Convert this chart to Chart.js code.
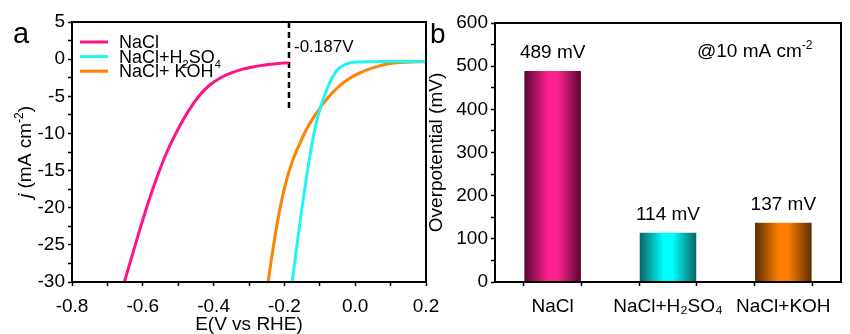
<!DOCTYPE html>
<html>
<head>
<meta charset="utf-8">
<script src="https://cdn.jsdelivr.net/npm/chart.js@4.4.1/dist/chart.umd.min.js"></script>
<style>
html,body{margin:0;padding:0;background:#fff;overflow:hidden}
#wrap{position:relative;width:850px;height:334px}
canvas{position:absolute;top:0}
</style>
</head>
<body>
<div id="wrap">
<canvas id="ca" width="450" height="334" style="left:0"></canvas>
<canvas id="cb" width="425" height="334" style="left:425px"></canvas>
</div>
<script>
// ---------------- DATA ----------------
// Panel a: LSV curves, E (V vs RHE) and j (mA cm-2)
const naclE = [-0.652,-0.620,-0.590,-0.560,-0.530,-0.500,-0.470,-0.440,-0.410,-0.380,-0.350,-0.320,-0.290,-0.260,-0.230,-0.187];
const naclJ = [-30,-24.8,-20.1,-15.9,-12.3,-9.4,-6.9,-4.9,-3.45,-2.5,-1.85,-1.38,-1.05,-0.81,-0.64,-0.48];
const h2so4E = [-0.178,-0.166,-0.154,-0.142,-0.130,-0.118,-0.106,-0.094,-0.082,-0.070,-0.058,-0.046,-0.034,-0.022,-0.008,0.008,0.04,0.1,0.2];
const h2so4J = [-30,-25.6,-21.3,-17.3,-13.6,-10.4,-7.8,-5.9,-4.3,-2.95,-1.95,-1.25,-0.85,-0.6,-0.45,-0.37,-0.34,-0.33,-0.33];
const kohE = [-0.246,-0.237,-0.227,-0.216,-0.204,-0.190,-0.174,-0.156,-0.136,-0.114,-0.090,-0.062,-0.030,0.000,0.030,0.061,0.098,0.130,0.160,0.200];
const kohJ = [-30,-27,-24,-21,-18.2,-15.6,-13.3,-11.3,-9.3,-7.6,-5.95,-4.4,-3.05,-2.15,-1.5,-1.0,-0.6,-0.44,-0.37,-0.34];
const seriesNames = ['NaCl', 'NaCl+H2SO4', 'NaCl+ KOH'];
const onsetE = -0.187;          // dashed marker
const onsetJ = [5, -6.6];       // dashed marker span
const onsetLabel = '-0.187V';

// Panel b: overpotential at 10 mA cm-2
const categories = ['NaCl', 'NaCl+H\u2082SO\u2084', 'NaCl+KOH'];
const overpotential = [489, 114, 137];
const valueUnit = 'mV';

// ---------------- STYLES ----------------
const lineColors = ['#ff1487', '#22f4f4', '#ff8200'];
const barDark = ['#5a0430', '#0a6262', '#5c2c02'];
const barBright = ['#ff2390', '#00ffff', '#ff8000'];
const FONT = "'Liberation Sans', Arial, Helvetica, sans-serif";
Chart.defaults.font.family = FONT;
Chart.defaults.color = '#000';
Chart.defaults.animation = false;

// ---------------- HELPERS ----------------
function segsFromChem(s){ // digits become subscripts
  const out = [];
  s.split(/(\d+)/).forEach((p,i)=>{ if(p) out.push({t:p, sub: i%2===1}); });
  return out;
}
function fontFor(seg, size){
  const sz = (seg.sub||seg.sup) ? Math.round(size*0.62) : size;
  return (seg.italic ? 'italic ' : '') + sz + 'px ' + FONT;
}
function richWidth(ctx, segs, size){
  let w = 0;
  segs.forEach(s=>{ ctx.font = fontFor(s,size); w += ctx.measureText(s.t).width; });
  return w;
}
function drawRich(ctx, segs, x, y, size, align){
  let w = richWidth(ctx, segs, size);
  let cx = align==='center' ? x - w/2 : (align==='right' ? x - w : x);
  ctx.textAlign = 'left'; ctx.textBaseline = 'alphabetic'; ctx.fillStyle = '#000';
  segs.forEach(s=>{
    ctx.font = fontFor(s,size);
    let dy = s.sub ? size*0.28 : (s.sup ? -size*0.42 : 0);
    ctx.fillText(s.t, cx, y+dy);
    cx += ctx.measureText(s.t).width;
  });
}
const boxPlugin = {
  id:'box',
  afterDraw(chart){
    const {ctx, chartArea:a} = chart;
    ctx.save(); ctx.strokeStyle = '#000'; ctx.lineWidth = 2;
    ctx.strokeRect(a.left, a.top, a.right-a.left, a.bottom-a.top);
    ctx.restore();
  }
};

// ---------------- PANEL A ----------------
const xyData = (xs, ys) => xs.map((x,i)=>({x, y: ys[i]}));
const panelAText = {
  id:'panelAText',
  afterDraw(chart){
    const {ctx, chartArea:a, scales} = chart;
    ctx.save();
    // panel letter
    ctx.font = '29px ' + FONT; ctx.fillStyle='#000'; ctx.textAlign='left'; ctx.textBaseline='alphabetic';
    ctx.fillText('a', 13, 43);
    // legend
    for (let i=0;i<3;i++){
      const ds = chart.data.datasets[i];
      const ry = a.top + 20 + i*14.6;
      ctx.strokeStyle = ds.borderColor; ctx.lineWidth = 3;
      ctx.beginPath(); ctx.moveTo(a.left+8, ry); ctx.lineTo(a.left+36, ry); ctx.stroke();
      drawRich(ctx, segsFromChem(ds.label), a.left+47, ry+6, 18, 'left');
    }
    // onset label
    const xp = scales.x.getPixelForValue(onsetE);
    ctx.font = '17px ' + FONT; ctx.textAlign='left'; ctx.fillStyle='#000';
    ctx.fillText(onsetLabel, xp+5, a.top+30);
    // y title
    ctx.translate(24, (a.top+a.bottom)/2);
    ctx.rotate(-Math.PI/2);
    drawRich(ctx, [{t:'j',italic:true},{t:' (mA cm'},{t:'-2',sup:true},{t:')'}], 0, 7, 19, 'center');
    ctx.restore();
  }
};
const lineStyle = {borderWidth:3, pointRadius:0, cubicInterpolationMode:'monotone', fill:false};
new Chart(document.getElementById('ca'), {
  type:'line',
  data:{
    datasets:[
      Object.assign({label:seriesNames[0], data:xyData(naclE,naclJ), borderColor:lineColors[0]}, lineStyle),
      Object.assign({label:seriesNames[1], data:xyData(h2so4E,h2so4J), borderColor:lineColors[1]}, lineStyle),
      Object.assign({label:seriesNames[2], data:xyData(kohE,kohJ), borderColor:lineColors[2]}, lineStyle),
      {label:'onset', data:[{x:onsetE,y:onsetJ[0]},{x:onsetE,y:onsetJ[1]}], borderColor:'#000', borderWidth:2.5, borderDash:[6,4], pointRadius:0, fill:false}
    ]
  },
  options:{
    responsive:false, animation:false,
    layout:{padding:{left:0,right:24,top:22,bottom:0}},
    plugins:{legend:{display:false}, tooltip:{enabled:false}},
    scales:{
      x:{type:'linear', min:-0.8, max:0.2,
         afterFit:s=>{s.height=52;},
         ticks:{stepSize:0.1, autoSkip:false, maxRotation:0, padding:9, font:{size:19}, color:'#000',
           callback:v=>{const r=Math.round(v*10); return (Math.abs(r)%2===0)?(r/10).toFixed(1):'';}},
         grid:{drawOnChartArea:false, drawTicks:true, tickLength:4, color:'#000', tickWidth:1.5},
         border:{color:'#000', width:2},
         title:{display:true, text:'E(V vs RHE)', font:{size:19}, color:'#000', padding:{top:0,bottom:-2}}},
      y:{type:'linear', min:-30, max:5,
         afterFit:s=>{s.width=72;},
         ticks:{stepSize:2.5, autoSkip:false, padding:3, font:{size:19}, color:'#000',
           callback:v=>{const r=Math.round(v*2); return (r%10===0)?String(r/2):'';}},
         grid:{drawOnChartArea:false, drawTicks:true, tickLength:4, color:'#000', tickWidth:1.5},
         border:{color:'#000', width:2}}
    }
  },
  plugins:[boxPlugin, panelAText]
});

// ---------------- PANEL B ----------------
const barGradient = {
  id:'barGradient',
  beforeDatasetsDraw(chart){
    const ctx = chart.ctx;
    chart.getDatasetMeta(0).data.forEach((el,i)=>{
      const l = el.x - el.width/2, r = el.x + el.width/2;
      const g = ctx.createLinearGradient(l,0,r,0);
      g.addColorStop(0, barDark[i]);
      g.addColorStop(0.42, barBright[i]);
      g.addColorStop(0.58, barBright[i]);
      g.addColorStop(1, barDark[i]);
      el.options.backgroundColor = g;
    });
  },
  afterDatasetsDraw(chart){
    const ctx = chart.ctx;
    ctx.save();
    ctx.font = '19px ' + FONT; ctx.fillStyle='#000'; ctx.textAlign='center'; ctx.textBaseline='alphabetic';
    chart.getDatasetMeta(0).data.forEach((el,i)=>{
      ctx.fillText(overpotential[i] + ' ' + valueUnit, el.x, el.y - 13);
    });
    ctx.restore();
  }
};
const panelBText = {
  id:'panelBText',
  afterDraw(chart){
    const {ctx, chartArea:a} = chart;
    ctx.save();
    ctx.font = '28px ' + FONT; ctx.fillStyle='#000'; ctx.textAlign='left'; ctx.textBaseline='alphabetic';
    ctx.fillText('b', 5, 43);
    drawRich(ctx, [{t:'@10 mA cm'},{t:'-2',sup:true}], a.left+202, a.top+34, 19, 'left');
    ctx.restore();
  }
};
new Chart(document.getElementById('cb'), {
  type:'bar',
  data:{
    datasets:[{
      data: overpotential.map((v,i)=>({x:i+1, y:v})),
      backgroundColor: barBright, borderWidth:0,
      barPercentage:0.98, categoryPercentage:1.0
    }]
  },
  options:{
    responsive:false, animation:false,
    layout:{padding:{left:0,right:2,top:23,bottom:0}},
    plugins:{legend:{display:false}, tooltip:{enabled:false}},
    scales:{
      x:{type:'linear', min:0.5, max:categories.length+0.5, offset:false,
         afterFit:s=>{s.height=52;},
         ticks:{stepSize:0.5, autoSkip:false, maxRotation:0, padding:9, font:{size:19}, color:'#000',
           callback:v=>{const r=Math.round(v*2); return (r%2===0)?(categories[r/2-1]||''):'';}},
         grid:{drawOnChartArea:false, drawTicks:true, tickLength:4, color:'#000', tickWidth:1.5},
         border:{color:'#000', width:2}},
      y:{type:'linear', min:0, max:600,
         afterFit:s=>{s.width=70;},
         ticks:{stepSize:50, autoSkip:false, padding:3, font:{size:19}, color:'#000',
           callback:v=>(Math.round(v)%100===0)?String(Math.round(v)):''},
         grid:{drawOnChartArea:false, drawTicks:true, tickLength:4, color:'#000', tickWidth:1.5},
         border:{color:'#000', width:2},
         title:{display:true, text:'Overpotential (mV)', font:{size:19}, color:'#000', padding:{top:0,bottom:0}}}
    }
  },
  plugins:[boxPlugin, barGradient, panelBText]
});
</script>
</body>
</html>
